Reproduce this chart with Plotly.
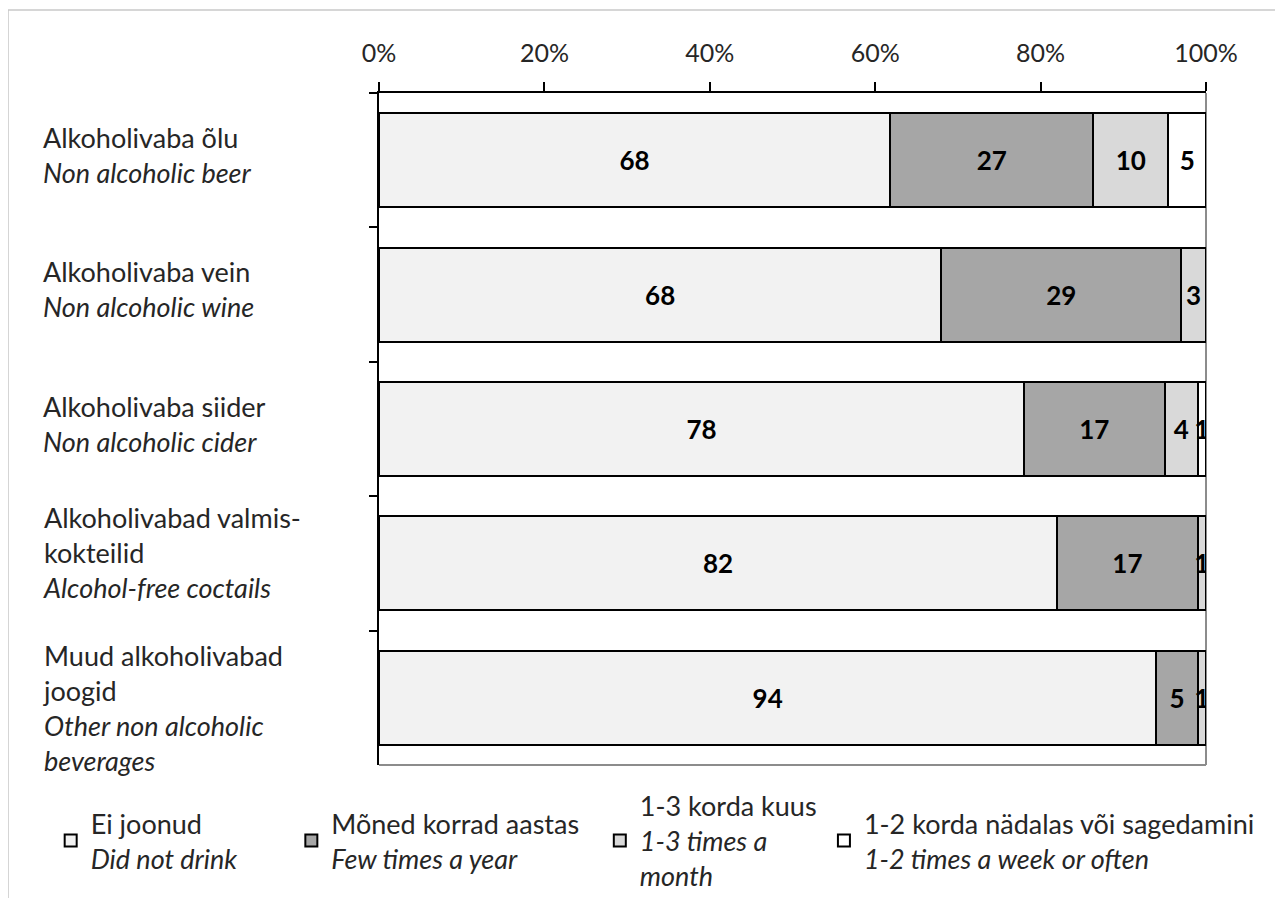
import plotly.graph_objects as go

# ---- data ----
categories_et = ["Alkoholivaba õlu", "Alkoholivaba vein", "Alkoholivaba siider",
                 "Alkoholivabad valmis-<br>kokteilid", "Muud alkoholivabad<br>joogid"]
categories_en = ["Non alcoholic beer", "Non alcoholic wine", "Non alcoholic cider",
                 "Alcohol-free coctails", "Other non alcoholic<br>beverages"]

series_et = ["Ei joonud", "Mõned korrad aastas", "1-3 korda kuus", "1-2 korda nädalas või sagedamini"]
series_en = ["Did not drink", "Few times a year", "1-3 times a<br>month", "1-2 times a week or often"]

did_not_drink = [68, 68, 78, 82, 94]
few_times_year = [27, 29, 17, 17, 5]
monthly = [10, 3, 4, 1, 1]
weekly = [5, 0, 1, 0, 0]

tick_values = [0, 20, 40, 60, 80, 100]
tick_labels = ["0%", "20%", "40%", "60%", "80%", "100%"]

# ---- style ----
FONT = "Lato"
TXT = "#262626"
colors = ["#F2F2F2", "#A6A6A6", "#D9D9D9", "#FFFFFF"]
legend_ids = ["legend", "legend2", "legend3", "legend4"]
legend_x = [-0.397, -0.106, 0.267, 0.538]
label_yshift = [5, 6, 5, 11, -10]


def ital(s):
    return "<i>" + s.replace("<br>", "</i><br><i>") + "</i>"


cat_keys = [f"{e}|{n}" for e, n in zip(categories_et, categories_en)]

fig = go.Figure()
all_series = [did_not_drink, few_times_year, monthly, weekly]
for i, vals in enumerate(all_series):
    fig.add_trace(go.Bar(
        y=cat_keys,
        x=vals,
        orientation="h",
        name=series_et[i] + "<br>" + ital(series_en[i]),
        legend=legend_ids[i],
        marker=dict(color=colors[i], line=dict(color="black", width=2)),
        text=[str(v) if v else "" for v in vals],
        texttemplate="%{text}",
        textposition="inside",
        insidetextanchor="middle",
        constraintext="none",
        textfont=dict(family=FONT, size=26, color="black", weight="bold"),
        hoverinfo="x+y",
    ))

annotations = []
for k, (key, et, en) in enumerate(zip(cat_keys, categories_et, categories_en)):
    annotations.append(dict(
        xref="paper", yref="y", x=-0.409, y=key,
        xanchor="left", yanchor="middle", align="left",
        text=et + "<br>" + ital(en), showarrow=False,
        yshift=label_yshift[k],
        font=dict(family=FONT, size=27, color=TXT),
    ))

shapes = [
    # outer light frame (top & left)
    dict(type="line", xref="paper", yref="paper", x0=-0.4486, x1=1.2, y0=1.1235, y1=1.1235,
         line=dict(color="#C8C8C8", width=1.5)),
    dict(type="line", xref="paper", yref="paper", x0=-0.4486, x1=-0.4486, y0=1.1235, y1=-0.25,
         line=dict(color="#C8C8C8", width=1.5)),
    # grey plot-area border right & bottom
    dict(type="line", xref="x domain", yref="y domain", x0=1, x1=1, y0=0, y1=1,
         line=dict(color="#8C8C8C", width=2), layer="below"),
    dict(type="line", xref="x domain", yref="y domain", x0=0, x1=1, y0=0, y1=0,
         line=dict(color="#8C8C8C", width=2), layer="below"),
]

layout_legends = {}
for i, lid in enumerate(legend_ids):
    layout_legends[lid] = dict(
        x=legend_x[i], y=-0.113, xanchor="left", yanchor="middle",
        orientation="v", bgcolor="rgba(0,0,0,0)",
        font=dict(family=FONT, size=27, color=TXT),
    )

fig.update_layout(
    width=1275, height=890,
    margin=dict(l=371, r=77, t=85, b=133, autoexpand=False),
    paper_bgcolor="white", plot_bgcolor="white",
    barmode="stack", barnorm="percent", bargap=0.3,
    font=dict(family=FONT, size=25, color=TXT),
    showlegend=True,
    annotations=annotations,
    shapes=shapes,
    xaxis=dict(
        side="top", range=[0, 100], tickvals=tick_values, ticktext=tick_labels,
        showgrid=False, zeroline=False,
        showline=True, linecolor="black", linewidth=1.5,
        ticks="outside", ticklen=9, tickwidth=1.5, tickcolor="black",
        ticklabelstandoff=10,
        tickfont=dict(family=FONT, size=25, color=TXT),
    ),
    yaxis=dict(
        autorange="reversed", showticklabels=False, showgrid=False, zeroline=False,
        showline=True, linecolor="black", linewidth=1.5,
        ticks="outside", ticklen=8, tickwidth=1.5, tickcolor="black",
        tickson="boundaries",
    ),
    **layout_legends,
)

fig.write_html("out.html")
